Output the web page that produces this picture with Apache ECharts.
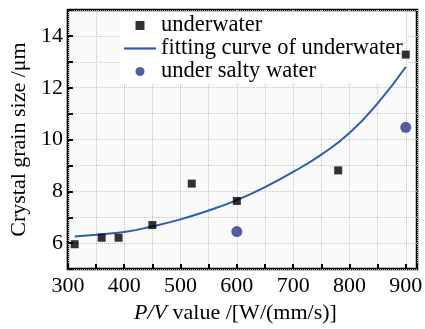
<!DOCTYPE html>
<html>
<head>
<meta charset="utf-8">
<script src="https://cdn.jsdelivr.net/npm/echarts@6/dist/echarts.min.js"></script>
<style>
  html, body { margin: 0; padding: 0; background: #fff; }
  #chart { width: 425px; height: 329px; }
</style>
</head>
<body>
<div id="chart"></div>
<script>
// 水下实测点
const underwaterX = [312, 360, 390, 450, 520, 600, 780, 900]
const underwaterY = [5.96, 6.21, 6.21, 6.7, 8.3, 7.63, 8.81, 13.28]
// 盐水实测点
const saltyX = [600, 900]
const saltyY = [6.45, 10.47]
// 拟合曲线
const fitX = [312, 350, 400, 450, 500, 550, 600, 650, 700, 750, 800, 850, 900]
const fitY = [6.26, 6.33, 6.43, 6.65, 6.92, 7.26, 7.66, 8.16, 8.75, 9.42, 10.25, 11.4, 12.8]

const FONT = 'Liberation Serif'
const pairs = (xs, ys) => xs.map((x, i) => [x, ys[i]])

const chart = echarts.init(document.getElementById('chart'))

chart.setOption({
  animation: false,
  textStyle: { fontFamily: FONT },
  grid: {
    left: 60, right: 1, top: 10, bottom: 47,
    show: true,
    backgroundColor: '#fafafa',
    borderColor: '#000',
    borderWidth: 2.5,
  },
  legend: {
    orient: 'vertical',
    left: 120, top: 12,
    padding: [2, 2, 0, 4],
    backgroundColor: '#fff',
    itemWidth: 32,
    itemHeight: 9,
    itemGap: 0,
    textStyle: { fontFamily: FONT, fontSize: 22.5, lineHeight: 21, color: '#000' },
    data: [
      { name: 'underwater', icon: 'path://M0,0h10v10h-10z' },
      { name: 'fitting curve of underwater', icon: 'path://M0,0h32v2.2h-32z' },
      { name: 'under salty water', icon: 'circle' },
    ],
  },
  xAxis: {
    type: 'value',
    min: 300, max: 920, interval: 50,
    name: '{i|P/V} value /[W/(mm/s)]',
    nameLocation: 'middle',
    nameGap: 22,
    nameTextStyle: {
      fontFamily: FONT, fontSize: 22, color: '#000',
      padding: [0, 14, 0, 0],
      rich: { i: { fontFamily: FONT, fontSize: 22, fontStyle: 'italic', color: '#000' } },
    },
    axisLine: { show: false },
    axisTick: { show: true, inside: true, length: 5, lineStyle: { color: '#000', width: 2 } },
    axisLabel: {
      fontFamily: FONT, fontSize: 22, color: '#000', margin: 6,
      formatter: v => (v % 100 === 0 ? String(v) : ''),
    },
    splitLine: { show: true, lineStyle: { color: '#c4c4c4', type: 'dotted', width: 1 } },
  },
  yAxis: {
    type: 'value',
    min: 5, max: 15, interval: 1,
    name: 'Crystal grain size /μm',
    nameLocation: 'middle',
    nameGap: 36,
    nameTextStyle: { fontFamily: FONT, fontSize: 22, color: '#000' },
    axisLine: { show: false },
    axisTick: { show: true, inside: true, length: 5, lineStyle: { color: '#000', width: 2 } },
    axisLabel: {
      fontFamily: FONT, fontSize: 22, color: '#000', margin: 5,
      formatter: v => (v % 2 === 0 && v < 15 ? String(v) : ''),
    },
    splitLine: { show: true, lineStyle: { color: '#c4c4c4', type: 'dotted', width: 1 } },
  },
  series: [
    {
      name: 'underwater',
      type: 'scatter',
      symbol: 'rect',
      symbolSize: 8,
      itemStyle: { color: '#000' },
      data: pairs(underwaterX, underwaterY),
      z: 6,
    },
    {
      name: 'fitting curve of underwater',
      type: 'line',
      smooth: true,
      symbol: 'none',
      lineStyle: { color: '#2c5db3', width: 2 },
      itemStyle: { color: '#2c5db3' },
      data: pairs(fitX, fitY),
      z: 5,
    },
    {
      name: 'under salty water',
      type: 'scatter',
      symbol: 'circle',
      symbolSize: 11,
      itemStyle: { color: '#28348a' },
      data: pairs(saltyX, saltyY),
      z: 6,
    },
  ],
})
</script>
</body>
</html>
